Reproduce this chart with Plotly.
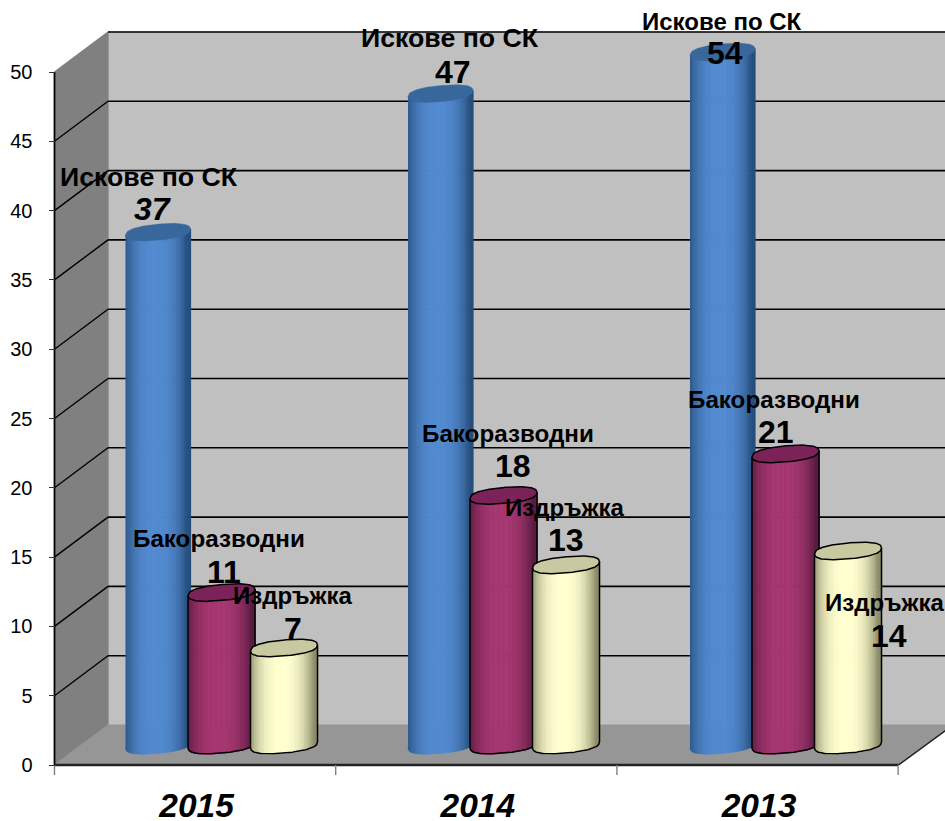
import math
import plotly.graph_objects as go

# ---- data ----
years = ["2015", "2014", "2013"]
series_names = ["Искове по СК", "Бакоразводни", "Издръжка"]
iskove = [37, 47, 54]
razvodi = [11, 18, 21]
izdrazhka = [7, 13, 14]
y_ticks = [0, 5, 10, 15, 20, 25, 30, 35, 40, 45, 50]

# ---- styles ----
W, H = 945, 821
Y0_PX, PX_PER_UNIT = 765.0, 13.86
AXIS_MAX = 50
DEPTH_X, DEPTH_PX = 53.5, 40.0
LEFT = 54.5
SLOT = 281.2
FONT = "Liberation Sans, Arial, sans-serif"

def v(px):          # pixel row -> value on the axis
    return (Y0_PX - px) / PX_PER_UNIT

def dv(px):         # pixel height -> value span
    return px / PX_PER_UNIT

DEPTH = dv(DEPTH_PX)
WALL = "#c0c0c0"
SIDE = "#808080"
FLOOR = "#969696"

fig = go.Figure()

def poly(xs, ys, fill, line=None, lw=1.2):
    fig.add_trace(go.Scatter(x=xs, y=ys, mode="lines", fill="toself", fillcolor=fill,
                             line=dict(color=line or fill, width=lw), hoverinfo="skip",
                             showlegend=False))

def seg(xs, ys, color="#000000", lw=1.6):
    fig.add_trace(go.Scatter(x=xs, y=ys, mode="lines", line=dict(color=color, width=lw),
                             hoverinfo="skip", showlegend=False))

# walls and floor
BX = LEFT + DEPTH_X
poly([BX, W + 5, W + 5, BX], [DEPTH, DEPTH, AXIS_MAX + DEPTH, AXIS_MAX + DEPTH], WALL)
poly([LEFT, BX, BX, LEFT], [0, DEPTH, AXIS_MAX + DEPTH, AXIS_MAX], SIDE)
right_front = LEFT + SLOT * len(years) + 0.4
edge_drop = (W - right_front) * DEPTH / DEPTH_X
poly([LEFT, BX, W + 1, W + 1, right_front], [0, DEPTH, DEPTH, edge_drop, 0], FLOOR)
for t in y_ticks[1:]:
    seg([BX, W + 5], [t + DEPTH, t + DEPTH])
    if t < AXIS_MAX:
        seg([LEFT, BX], [t, t + DEPTH], lw=1.4)
seg([LEFT, LEFT], [0, AXIS_MAX], lw=1.8)
seg([LEFT, right_front], [0, 0], color="#222222", lw=2.4)
seg([right_front, W + 1], [0, edge_drop], color="#222222", lw=1.4)
for i in range(len(years) + 1):
    x = LEFT + SLOT * i
    seg([x, x], [0, dv(-10)], color="#808080", lw=1.4)

# cylinders
PALETTE = [
    dict(edge=(38, 78, 125), mid=(82, 138, 208), cap="#38679c", line=None),
    dict(edge=(88, 26, 64), mid=(166, 54, 112), cap="#7b2358", line="#000000"),
    dict(edge=(140, 140, 105), mid=(255, 255, 208), cap="#c9c9a1", line="#000000"),
]
RADIUS = [32.5, 33.5, 33.5]
CENTERS = [[158, 440.5, 722.5], [221.5, 503.5, 785.5], [284, 566, 848]]
SEMI_H, TILT = 8.0, 3.0
BASE = dv(20)
STRIPS = 40

def ell_y(cy, u, sign):
    # u in [-1, 1] along the width; sign=-1 for the lower half, +1 for the upper
    return cy + dv(sign * SEMI_H * max(0, 1 - abs(u) ** 2.4) ** (1 / 2.4) + TILT * u)

def mid_y(cy, u):
    return cy + dv(TILT * u)

def shade(p, u):
    k = min(1.0, abs((u + 0.08)) ** 2.6 * 1.05)
    return "rgb(%d,%d,%d)" % tuple(round(m + (e - m) * k) for e, m in zip(p["edge"], p["mid"]))

def cylinder(cx, r, value, p):
    top = BASE + min(value, AXIS_MAX)
    us = [-1 + 2 * i / STRIPS for i in range(STRIPS + 1)]
    for a, b in zip(us[:-1], us[1:]):
        xa, xb = cx + a * r, cx + b * r
        poly([xa, xb, xb, xa],
             [ell_y(BASE, a, -1), ell_y(BASE, b, -1), mid_y(top, b), mid_y(top, a)],
             shade(p, (a + b) / 2))
    steps = [-1 + 2 * i / 80 for i in range(81)]
    ex = [cx + u * r for u in steps] + [cx + u * r for u in reversed(steps)]
    ey = [ell_y(top, u, 1) for u in steps] + [ell_y(top, u, -1) for u in reversed(steps)]
    poly(ex, ey, p["cap"], line=p["line"], lw=1.5 if p["line"] else 0.5)
    if p["line"]:
        ox = [cx - r] + [cx + u * r for u in steps] + [cx + r]
        oy = [mid_y(top, -1)] + [ell_y(BASE, u, -1) for u in steps] + [mid_y(top, 1)]
        seg(ox, oy, lw=1.5)
    return top

all_values = [iskove, razvodi, izdrazhka]
tops = [[None] * 3 for _ in range(3)]
for yi in range(3):
    for si in range(3):
        tops[si][yi] = cylinder(CENTERS[si][yi], RADIUS[si], all_values[si][yi], PALETTE[si])

# label placement, relative to each cylinder's centre and top, in px
NAME_DX = [[-9, 9.5, -1], [-2.5, 4.5, -11.5], [9, -1, 37]]
NAME_DY = [[-55, -56, -31], [-54, -62, -54], [-52, -57.5, 51.4]]
VAL_DX = [[-5, 12, 2], [2.5, 9, -10], [8.5, 0, 40.5]]
VAL_DY = [[-23, -22, 1], [-21, -30, -22], [-19, -24.5, 85.4]]
NAME_SIZE = [[26.7, 26.7, 24], [24.2, 24.2, 24.2], [24, 24, 24]]

anns = []
for si in range(3):
    for yi in range(3):
        cx, top = CENTERS[si][yi], tops[si][yi]
        anns.append(dict(x=cx + NAME_DX[si][yi], y=top + dv(-NAME_DY[si][yi]), text=series_names[si],
                         showarrow=False, xref="x", yref="y",
                         font=dict(family=FONT, size=NAME_SIZE[si][yi], color="black", weight="bold")))
        italic = si == 0 and yi == 0
        anns.append(dict(x=cx + VAL_DX[si][yi], y=top + dv(-VAL_DY[si][yi]), text=str(all_values[si][yi]),
                         showarrow=False, xref="x", yref="y",
                         font=dict(family=FONT, size=32, color="black", weight="bold",
                                   style="italic" if italic else "normal")))

fig.update_layout(
    width=W, height=H, margin=dict(l=0, r=0, t=0, b=0), autosize=False,
    paper_bgcolor="white", plot_bgcolor="white", showlegend=False, annotations=anns,
    xaxis=dict(range=[0, W], domain=[0, 1], showgrid=False, zeroline=False, showline=False,
               automargin=False,
               tickmode="array", tickvals=[LEFT + SLOT * (i + 0.5) + 1.5 for i in range(3)], ticktext=years,
               ticks="", anchor="free", position=(H - Y0_PX) / H, ticklabelstandoff=17,
               tickfont=dict(family=FONT, size=33.5, color="black", weight="bold", style="italic")),
    yaxis=dict(range=[v(H), v(0)], domain=[0, 1], showgrid=False, zeroline=False, showline=False,
               automargin=False,
               tickmode="array", tickvals=y_ticks, ticktext=[str(t) for t in y_ticks],
               ticks="outside", ticklen=6, tickcolor="#333333", tickwidth=1.2,
               anchor="free", position=LEFT / W, ticklabelstandoff=12,
               tickfont=dict(family=FONT, size=20, color="black")),
)
fig.write_html("out.html", config=dict(displayModeBar=False),
               post_script="document.documentElement.style.overflow='hidden';"
                           "document.body.style.margin='0';")
